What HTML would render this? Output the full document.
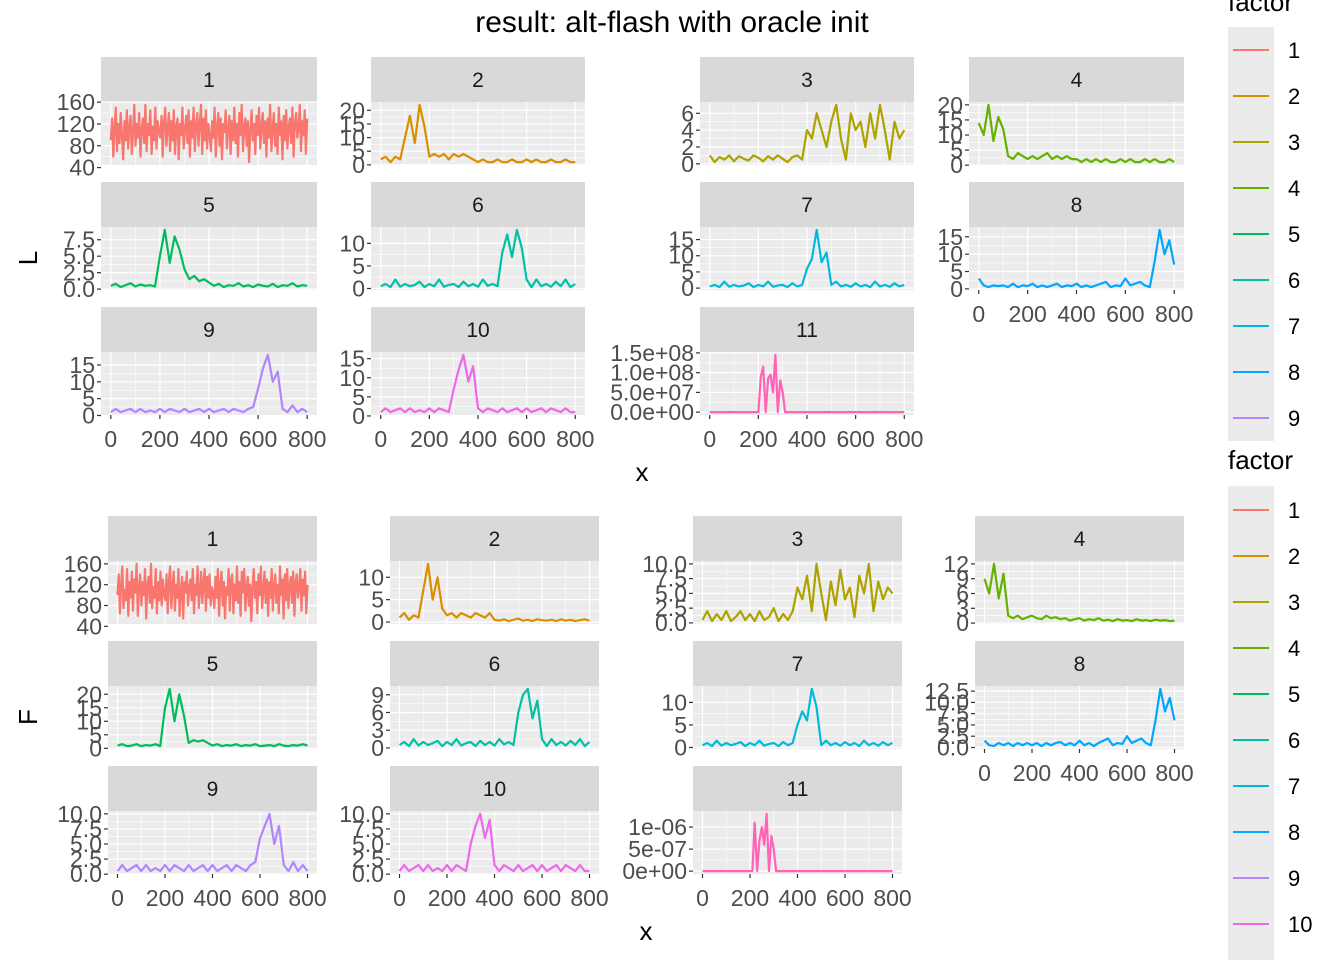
<!DOCTYPE html>
<html><head><meta charset="utf-8"><style>
html,body{margin:0;padding:0;background:#fff;}
svg{display:block;font-family:"Liberation Sans",Arial,sans-serif;}
</style></head><body>
<svg id="c" width="1344" height="960" viewBox="0 0 1344 960"></svg>
<script>
// ---------- data ----------
const xDomain = [0, 800];
const xTicks = [0, 200, 400, 600, 800];
const panelLabels = ["1","2","3","4","5","6","7","8","9","10","11"];
const colors = ["#F8766D","#DB8E00","#AEA200","#64B200","#00BD5C","#00C1A7","#00BADE","#00A6FF","#B385FF","#EF67EB","#FF63B6"];

const L1 = [90,130,60,110,150,70,120,85,140,100,55,125,90,145,75,115,135,65,105,155,80,120,95,140,60,110,130,85,155,70,120,100,145,65,115,90,150,75,125,105,95,135,60,120,150,80,110,140,70,125,90,145,65,115,130,55,120,100,150,75,110,135,85,145,60,125,95,150,70,115,140,80,120,155,65,130,90,145,75,120,100,
  70,125,95,150,60,115,140,80,130,55,120,105,145,75,110,135,65,125,90,150,85,120,60,140,100,155,70,115,130,80,125,50,110,145,90,120,65,135,100,150,75,115,140,85,125,60,130,95,155,70,110,140,80,120,65,150,100,125,55,135,90,145,75,115,130,85,150,60,120,140,95,110,155,70,125,100,145,65,130];
const L2 = [2,3,1,3,2,10,18,8,22,14,3,4,3,4,2,4,3,4,3,2,1,2,1,1,2,1,1,2,1,1,2,1,2,1,1,2,1,1,2,1,1];
const L3 = [1,0.2,0.8,0.5,1,0.3,0.9,0.6,0.4,1,0.7,0.3,0.9,0.5,1,0.6,0.2,0.8,1,0.5,4,3,6,4,2,5,7,3,0.5,6,4,5,2,6,3,7,4,0.5,5,3,4];
const L4 = [14,10,20,8,16,12,3,2,4,3,2,3,2,3,4,2,3,2,3,2,2,1,2,1,2,1,2,1,1,2,1,2,1,1,2,1,2,1,1,2,1];
const L5 = [0.5,0.8,0.3,0.6,0.9,0.4,0.7,0.5,0.6,0.4,5,9,4,8,6,3,1.5,2,1.2,1.5,1,0.5,0.8,0.3,0.6,0.5,0.9,0.4,0.6,0.3,0.7,0.5,0.4,0.8,0.3,0.6,0.5,0.9,0.4,0.6,0.5];
const L6 = [0.5,1,0.3,2,0.4,1,0.5,0.8,1.5,0.3,1,0.5,2,0.4,0.8,1,0.3,1.5,0.5,1,0.4,2,0.6,1,0.5,8,12,7,13,9,2,0.3,2,0.5,1,0.4,1.5,0.5,2,0.3,1];
const L7 = [0.5,1,0.3,2,0.4,1,0.5,0.8,1.5,0.3,1,0.5,2,0.4,0.8,1,0.3,1.5,0.5,1,6,9,18,8,11,1,2,0.5,1,0.4,1.5,0.5,1,0.3,2,0.5,1,0.4,1.5,0.5,1];
const L8 = [3,1,0.5,1,0.8,1,0.5,1.5,0.5,1,0.8,1.5,0.5,1,0.5,1,1.5,0.5,1,0.8,1.5,0.5,1,0.5,1,1.5,2,0.5,1,0.8,3,1,1.5,2,1,0.5,8,17,10,14,7];
const L9 = [1,2,1,1.5,2,1,2,1,1.5,1,2,1,2,1.5,1,2,1,1.5,2,1,2,1,1.5,2,1,2,1.5,1,2,2.5,8,14,18,10,13,2,1,3,1,2,1];
const L10 = [1,2,1,1.5,2,1,2,1,1.5,1,2,1,2,1.5,1,7,12,16,9,13,2,1,2,1.5,1,2,1,1.5,2,1,2,1,1.5,2,1,2,1.5,1,2,1,1];
const L11 = [0,0,0,0,0,0,0,0,0,0,0,0,0,0,0,0,0,0,0,0,0,0.9e8,1.15e8,0,0.85e8,0.95e8,0.5e8,1.45e8,0,0.8e8,0.5e8,0,0,0,0,0,0,0,0,0,0,0,0,0,0,0,0,0,0,0,0,0,0,0,0,0,0,0,0,0,0,0,0,0,0,0,0,0,0,0,0,0,0,0,0,0,0,0,0,0,0];

const F1 = [100,140,65,120,155,75,110,90,150,60,125,95,145,70,130,105,160,60,115,140,80,125,100,150,55,120,135,85,160,75,115,95,150,65,125,90,145,80,130,100,90,140,65,125,155,75,115,145,70,120,95,150,60,110,135,55,125,105,145,80,115,130,90,150,65,120,100,155,75,110,145,85,125,150,70,135,95,140,80,115,105,
  75,135,95,150,60,120,145,80,125,55,115,100,150,70,130,140,65,120,90,155,85,125,60,145,105,150,70,110,135,80,120,50,115,150,95,125,65,140,100,155,75,110,145,85,130,60,125,95,150,70,115,140,85,120,65,155,100,130,55,140,90,150,75,120,135,85,145,60,125,140,95,115,150,70,130,100,145,65,120];
const F2 = [1,2,0.5,1.5,1,7,13,5,10,3,1.5,2,1,2,1.5,1,2,1.5,1,2,0.5,0.3,0.6,0.2,0.5,0.8,0.3,0.5,0.2,0.6,0.4,0.3,0.5,0.2,0.6,0.3,0.5,0.2,0.4,0.6,0.3];
const F3 = [0.5,2,0.3,1.5,0.5,2,0.3,1,2,0.5,1.5,0.3,2,0.5,1,2.5,0.3,1.5,0.5,2,6,4,8,2,10,5,0.5,7,3,9,4,6,1,8,5,10,2,7,4,6,5];
const F4 = [9,6,12,5,10,1.5,1,1.5,0.8,1.2,1.5,1,0.8,1.5,1,1.2,0.8,1,0.5,0.8,1,0.5,0.8,0.6,1,0.5,0.7,0.4,0.8,0.5,0.6,0.4,0.8,0.5,0.6,0.4,0.7,0.5,0.6,0.4,0.5];
const F5 = [1,1.5,0.8,1,1.5,0.8,1.2,1,1.5,0.8,15,22,10,20,12,2,3,2.5,3,2,1,1.5,0.8,1.2,1,1.5,0.8,1.2,1,1.5,0.8,1,1.2,0.8,1.5,1,0.8,1.2,1,1.5,1];
const F6 = [0.5,1,0.3,1.5,0.4,1,0.5,0.8,1.2,0.3,1,0.5,1.5,0.4,0.8,1,0.3,1.2,0.5,1,0.4,1.5,0.6,1,0.5,6,9,10,5,8,1.5,0.3,1.5,0.5,1,0.4,1.2,0.5,1.5,0.3,1];
const F7 = [0.5,1,0.3,1.5,0.4,1,0.5,0.8,1.2,0.3,1,0.5,1.5,0.4,0.8,1,0.3,1.2,0.5,1,5,8,6,13,9,0.5,1.5,0.5,1,0.4,1.2,0.5,1,0.3,1.5,0.5,1,0.4,1.2,0.5,1];
const F8 = [1.5,0.5,0.3,1,0.5,1,0.3,1,0.5,1,0.5,1,0.3,1,0.5,1,1.2,0.5,1,0.5,1.5,0.5,1,0.3,1,1.5,2,0.5,1,0.8,2.5,1,1.5,2,1,0.5,6,13,8,11,6];
const F9 = [0.5,1.5,0.5,1,1.5,0.5,1.5,0.5,1,0.5,1.5,0.5,1.5,1,0.5,1.5,0.5,1,1.5,0.5,1.5,0.5,1,1.5,0.5,1.5,1,0.5,1.5,2,6,8,10,5,8,1.5,0.5,2,0.5,1.5,0.5];
const F10 = [0.5,1.5,0.5,1,1.5,0.5,1.5,0.5,1,0.5,1.5,0.5,1.5,1,0.5,5,8,10,6,9,1.5,0.5,1.5,1,0.5,1.5,0.5,1,1.5,0.5,1.5,0.5,1,1.5,0.5,1.5,1,0.5,1.5,0.5,0.5];
const F11 = [0,0,0,0,0,0,0,0,0,0,0,0,0,0,0,0,0,0,0,0,0,0,1.1e-6,0,0.7e-6,1.0e-6,0.6e-6,1.3e-6,0,0.8e-6,0.5e-6,0,0,0,0,0,0,0,0,0,0,0,0,0,0,0,0,0,0,0,0,0,0,0,0,0,0,0,0,0,0,0,0,0,0,0,0,0,0,0,0,0,0,0,0,0,0,0,0,0,0];

const Lseries = [L1,L2,L3,L4,L5,L6,L7,L8,L9,L10,L11];
const Fseries = [F1,F2,F3,F4,F5,F6,F7,F8,F9,F10,F11];

const LtickVals = [[40,80,120,160],[0,5,10,15,20],[0,2,4,6],[0,5,10,15,20],[0,2.5,5,7.5],[0,5,10],[0,5,10,15],[0,5,10,15],[0,5,10,15],[0,5,10,15],[0,5e7,1e8,1.5e8]];
const LtickLabels = [["40","80","120","160"],["0","5","10","15","20"],["0","2","4","6"],["0","5","10","15","20"],["0.0","2.5","5.0","7.5"],["0","5","10"],["0","5","10","15"],["0","5","10","15"],["0","5","10","15"],["0","5","10","15"],["0.0e+00","5.0e+07","1.0e+08","1.5e+08"]];
const FtickVals = [[40,80,120,160],[0,5,10],[0,2.5,5,7.5,10],[0,3,6,9,12],[0,5,10,15,20],[0,3,6,9],[0,5,10],[0,2.5,5,7.5,10,12.5],[0,2.5,5,7.5,10],[0,2.5,5,7.5,10],[0,5e-7,1e-6]];
const FtickLabels = [["40","80","120","160"],["0","5","10"],["0.0","2.5","5.0","7.5","10.0"],["0","3","6","9","12"],["0","5","10","15","20"],["0","3","6","9"],["0","5","10"],["0.0","2.5","5.0","7.5","10.0","12.5"],["0.0","2.5","5.0","7.5","10.0"],["0.0","2.5","5.0","7.5","10.0"],["0e+00","5e-07","1e-06"]];

// ---------- layout ----------
const NS = "http://www.w3.org/2000/svg";
const svg = document.getElementById("c");
function mk(tag, attrs, parent, text){
  const e = document.createElementNS(NS, tag);
  for (const k in attrs) e.setAttribute(k, attrs[k]);
  if (text !== undefined) e.textContent = text;
  (parent || svg).appendChild(e);
  return e;
}
const topLayout = {cols:[[101,317],[371,585],[700,914],[969,1184]], strips:[57,182,307]};
const botLayout = {cols:[[108,317],[390,599],[693,902],[975,1184]], strips:[516,641,766]};
const STRIP_H = 45, PANEL_H = 63;
const TICK_FS = 23;

function drawGroup(layout, series, tickVals, tickLabels, prefix){
  for (let p = 0; p < series.length; p++){
    const r = Math.floor(p/4), c = p%4;
    const [x0,x1] = layout.cols[c];
    const sy = layout.strips[r], py0 = sy+STRIP_H, py1 = py0+PANEL_H;
    const g = mk("g", {});
    
    
    const st = mk("rect", {x:x0, y:sy, width:x1-x0, height:STRIP_H, fill:"#d9d9d9"}, g);
    
    
    const stt = mk("text", {x:(x0+x1)/2, y:sy+30, "text-anchor":"middle", "font-size":21, fill:"#1a1a1a"}, g, panelLabels[p]);
    
    
    const bg = mk("rect", {x:x0, y:py0, width:x1-x0, height:PANEL_H, fill:"#ebebeb"}, g);
    
    
    const xw = x1-x0, xs = v => x0 + xw*0.04545 + (v-xDomain[0])/(xDomain[1]-xDomain[0])*xw*0.9091;
    const d = series[p];
    let mn = Math.min(...d), mx = Math.max(...d);
    const pad = (mx-mn)*0.05 || 1;
    const lo = mn-pad, hi = mx+pad;
    const ys = v => py1 - (v-lo)/(hi-lo)*PANEL_H;
    const tv = tickVals[p];
    for (let i=0;i<tv.length-1;i++){
      const m=(tv[i]+tv[i+1])/2;
      if (ys(m)>=py0&&ys(m)<=py1) mk("line",{x1:x0,x2:x1,y1:ys(m),y2:ys(m),stroke:"#fff","stroke-width":0.6},g);
    }
    for (let i=0;i<xTicks.length-1;i++){
      const m=(xTicks[i]+xTicks[i+1])/2;
      mk("line",{x1:xs(m),x2:xs(m),y1:py0,y2:py1,stroke:"#fff","stroke-width":0.6},g);
    }
    tv.forEach(v=>{ if(ys(v)>=py0-0.5&&ys(v)<=py1+0.5) mk("line",{x1:x0,x2:x1,y1:ys(v),y2:ys(v),stroke:"#fff","stroke-width":1.2},g);});
    xTicks.forEach(v=>mk("line",{x1:xs(v),x2:xs(v),y1:py0,y2:py1,stroke:"#fff","stroke-width":1.2},g));
    const n = d.length;
    let path = "";
    d.forEach((v,i)=>{ const xv = xDomain[0] + i*(xDomain[1]-xDomain[0])/(n-1); path += (i?"L":"M")+xs(xv).toFixed(1)+","+ys(v).toFixed(1); });
    const ln = mk("path",{d:path,fill:"none",stroke:colors[p],"stroke-width":2.2,"stroke-linejoin":"round"},g);
    
    
    tv.forEach((v,i)=>{
      const y = ys(v);
      mk("line",{x1:x0-4,x2:x0,y1:y,y2:y,stroke:"#333","stroke-width":1.2},g);
      const t = mk("text",{x:x0-6,y:y+8,"text-anchor":"end","font-size":TICK_FS,fill:"#4d4d4d"},g,tickLabels[p][i]);
      
      
    });
    const below = p+4;
    if (below >= series.length){
      xTicks.forEach(v=>{
        mk("line",{x1:xs(v),x2:xs(v),y1:py1,y2:py1+4,stroke:"#333","stroke-width":1.2},g);
        const t = mk("text",{x:xs(v),y:py1+32,"text-anchor":"middle","font-size":TICK_FS,fill:"#4d4d4d"},g,String(v));
        
        
      });
    }
  }
}
drawGroup(topLayout, Lseries, LtickVals, LtickLabels, "L");
drawGroup(botLayout, Fseries, FtickVals, FtickLabels, "F");

let tt;
tt = mk("text",{x:672,y:32,"text-anchor":"middle","font-size":30,fill:"#000"},svg,"result: alt-flash with oracle init");
 
tt = mk("text",{x:0,y:0,"text-anchor":"middle","font-size":26,fill:"#000",transform:"translate(37,258) rotate(-90)"},svg,"L");
 
tt = mk("text",{x:0,y:0,"text-anchor":"middle","font-size":26,fill:"#000",transform:"translate(37,717) rotate(-90)"},svg,"F");
 
tt = mk("text",{x:642,y:481,"text-anchor":"middle","font-size":26,fill:"#000"},svg,"x");
 
tt = mk("text",{x:646,y:940,"text-anchor":"middle","font-size":26,fill:"#000"},svg,"x");
 

function legend(titleY, firstY, count, prefix){
  const lt = mk("text",{x:1228,y:titleY,"font-size":26,fill:"#000"},svg,"factor");
  
  
  mk("rect",{x:1228,y:firstY-23,width:46,height:Math.min(960-(firstY-23), 46*panelLabels.length),fill:"#ebebeb"});
  for (let i=0;i<count;i++){
    const cy = firstY + i*46;
    const g = mk("g",{});
    
    
    mk("line",{x1:1233,x2:1269,y1:cy,y2:cy,stroke:colors[i],"stroke-width":2},g);
    mk("text",{x:1288,y:cy+8,"font-size":22,fill:"#000"},g,panelLabels[i]);
  }
}
legend(11, 50, 9, "top");
const gap = mk("rect",{x:1220,y:441,width:124,height:45,fill:"#fff"});
 
legend(469, 510, 10, "bottom");
</script>
</body></html>
